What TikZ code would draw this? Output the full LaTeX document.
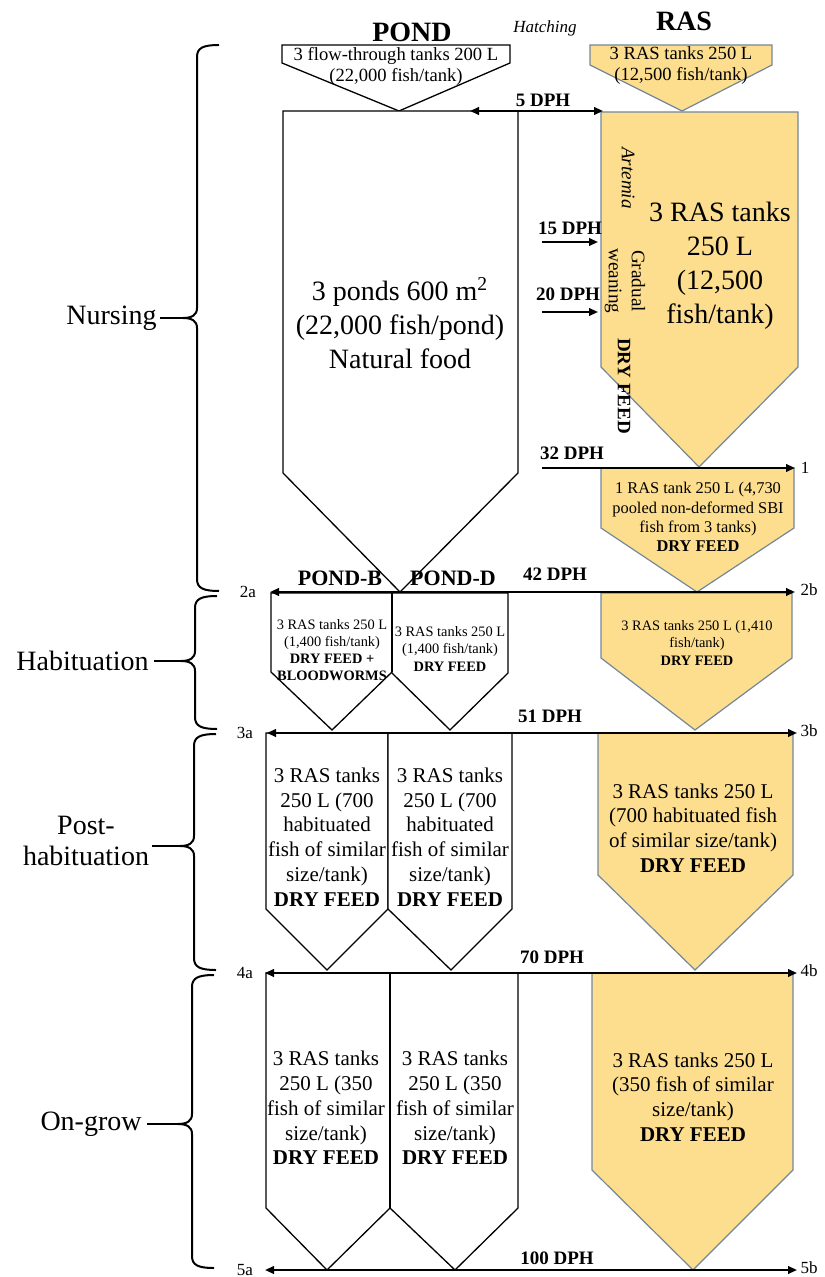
\documentclass[tikz,border=0pt]{standalone}
\usepackage{fontspec}
\setmainfont{Liberation Serif}
\usetikzlibrary{arrows.meta}
\definecolor{rasfill}{RGB}{253,222,142}
\definecolor{rasline}{RGB}{115,135,155}
\newcommand\tankshape[7]{\draw[#1] (#2,#4) -- (#3,#4) -- (#3,#5) -- (#6,#7) -- (#2,#5) -- cycle;}
\newcommand\phasebrace[4]{%
  \draw[line width=1pt] ({#1+22},#2) .. controls ({#1+6},#2) and (#1,{#2+3}) .. (#1,{#2+12})
    -- (#1,{#4-10}) .. controls (#1,{#4-3}) and ({#1-5},#4) .. ({#1-14},#4)
    .. controls ({#1-5},#4) and (#1,{#4+3}) .. (#1,{#4+10})
    -- (#1,{#3-12}) .. controls (#1,{#3-3}) and ({#1+6},#3) .. ({#1+22},#3);}
\begin{document}
\begin{tikzpicture}[x=0.5pt,y=-0.5pt,
  pondbox/.style={draw=black,line width=0.65pt,fill=white},
  rasbox/.style={draw=rasline,line width=0.6pt,fill=rasfill},
  divider/.style={draw=black,line width=1.2pt},
  txt/.style={inner sep=0pt,align=center},
  bigtxt/.style={txt,font=\fontsize{14}{17}\selectfont},
  midtxt/.style={txt,font=\fontsize{10.5}{12.4}\selectfont},
  toptxt/.style={txt,font=\fontsize{9.3}{10.5}\selectfont},
  smtxt/.style={txt,font=\fontsize{8.2}{9.6}\selectfont},
  tinytxt/.style={txt,font=\fontsize{7.2}{8.6}\selectfont},
  dphlbl/.style={txt,font=\bfseries\fontsize{9.5}{11}\selectfont},
  headlbl/.style={txt,font=\bfseries\fontsize{14}{16}\selectfont},
  subhead/.style={txt,font=\bfseries\fontsize{11}{13}\selectfont},
  phaselbl/.style={txt,font=\fontsize{14}{15.5}\selectfont},
  endlbl/.style={txt,font=\fontsize{8.5}{10}\selectfont},
  rottxt/.style={txt,rotate=-90,font=\fontsize{9.6}{11.5}\selectfont},
  onearrow/.style={line width=1pt,-{Triangle[length=4.5pt,width=3.8pt]}},
  twoarrow/.style={line width=1pt,{Triangle[length=4.5pt,width=3.8pt]}-{Triangle[length=4.5pt,width=3.8pt]}}
]
\useasboundingbox (0,0) rectangle (824,1277);

% ---------- headings ----------
\node[headlbl] (hpond) at (412,32) {POND};
\node[headlbl] (hras) at (684,21) {RAS};
\node[txt,font=\itshape\fontsize{8.5}{10}\selectfont] (hatch) at (545,28) {Hatching};

% ---------- tank shapes ----------
\tankshape{pondbox}{282}{510}{45}{63}{399}{111}
\tankshape{rasbox}{590}{772}{45}{65}{682}{111}
\tankshape{pondbox}{283}{518}{111}{473}{400}{592}
\tankshape{rasbox}{601}{798}{112}{367}{699}{467}
\tankshape{rasbox}{601}{794}{468}{528}{697}{592}
\tankshape{pondbox}{271}{392}{593}{672}{332}{730}
\tankshape{pondbox}{392}{508}{593}{673}{450}{730}
\tankshape{rasbox}{601}{792}{593}{658}{695}{730}
\tankshape{pondbox}{266}{388}{733}{909}{327}{970}
\tankshape{pondbox}{388}{512}{733}{909}{451}{970}
\tankshape{rasbox}{598}{793}{733}{875}{695}{970}
\tankshape{pondbox}{266}{390}{973}{1208}{327}{1270}
\tankshape{pondbox}{390}{518}{973}{1208}{455}{1270}
\tankshape{rasbox}{592}{793}{973}{1170}{693}{1270}
\draw[divider] (392,593) -- (392,672);
\draw[divider] (390,973) -- (390,1208);

% ---------- tank texts ----------
\node[toptxt] (t1) at (396,66) {3 flow-through tanks 200 L\\(22,000 fish/tank)};
\node[toptxt] (t2) at (681,66) {3 RAS tanks 250 L\\(12,500 fish/tank)};
\node[bigtxt] (pondtxt) at (400,323) {3 ponds 600 m\textsuperscript{2}\\(22,000 fish/pond)\\Natural food};
\node[bigtxt] (rastxt) at (720,266) {3 RAS tanks\\250 L\\(12,500\\fish/tank)};
\node[rottxt,font=\itshape\fontsize{9.6}{11.5}\selectfont] (artemia) at (628,178) {Artemia};
\node[rottxt] (wean) at (625,281) {Gradual\\weaning};
\node[rottxt,font=\bfseries\fontsize{9.5}{11}\selectfont] (dryrot) at (624,386) {DRY FEED};
\node[smtxt] (r1txt) at (698,517) {1 RAS tank 250 L (4,730\\pooled non-deformed SBI\\fish from 3 tanks)\\\textbf{DRY FEED}};
\node[tinytxt] (hbtxt) at (332,650) {3 RAS tanks 250 L\\(1,400 fish/tank)\\\textbf{DRY FEED +}\\\textbf{BLOODWORMS}};
\node[tinytxt] (hdtxt) at (450,649) {3 RAS tanks 250 L\\(1,400 fish/tank)\\\textbf{DRY FEED}};
\node[tinytxt] (hrtxt) at (697,643) {3 RAS tanks 250 L (1,410\\fish/tank)\\\textbf{DRY FEED}};
\node[midtxt] (pbtxt) at (327,837) {3 RAS tanks\\250 L (700\\habituated\\fish of similar\\size/tank)\\\textbf{DRY FEED}};
\node[midtxt] (pdtxt) at (450,837) {3 RAS tanks\\250 L (700\\habituated\\fish of similar\\size/tank)\\\textbf{DRY FEED}};
\node[midtxt] (prtxt) at (693,828) {3 RAS tanks 250 L\\(700 habituated fish\\of similar size/tank)\\\textbf{DRY FEED}};
\node[midtxt] (obtxt) at (326,1108) {3 RAS tanks\\250 L (350\\fish of similar\\size/tank)\\\textbf{DRY FEED}};
\node[midtxt] (odtxt) at (455,1108) {3 RAS tanks\\250 L (350\\fish of similar\\size/tank)\\\textbf{DRY FEED}};
\node[midtxt] (ortxt) at (693,1097) {3 RAS tanks 250 L\\(350 fish of similar\\size/tank)\\\textbf{DRY FEED}};

% ---------- sub-headings ----------
\node[subhead] (pb) at (340,578) {POND-B};
\node[subhead] (pd) at (453,578) {POND-D};

% ---------- end labels ----------
\node[endlbl] (l1) at (805,468) {1};
\node[endlbl] (l2a) at (248,592) {2a};
\node[endlbl] (l2b) at (809,590) {2b};
\node[endlbl] (l3a) at (245,733) {3a};
\node[endlbl] (l3b) at (809,731) {3b};
\node[endlbl] (l4a) at (245,973) {4a};
\node[endlbl] (l4b) at (809,971) {4b};
\node[endlbl] (l5a) at (245,1270) {5a};
\node[endlbl] (l5b) at (809,1268) {5b};

% ---------- arrow end points ----------
\coordinate (d5a) at (470,111);  \coordinate (d5b) at (603,111);
\coordinate (d15a) at (542,242); \coordinate (d15b) at (598,242);
\coordinate (d20a) at (542,312); \coordinate (d20b) at (598,312);
\coordinate (d32a) at (542,468); \coordinate (d32b) at (795,468);
\coordinate (d42a) at (270,592); \coordinate (d42b) at (795,592);
\coordinate (d51a) at (267,733); \coordinate (d51b) at (797,733);
\coordinate (d70a) at (265,973); \coordinate (d70b) at (797,973);
\coordinate (d100a) at (265,1270); \coordinate (d100b) at (797,1270);

\draw[twoarrow] (d5a) -- (d5b);
\draw[onearrow] (d15a) -- (d15b);
\draw[onearrow] (d20a) -- (d20b);
\draw[onearrow] (d32a) -- (d32b);
\draw[twoarrow] (d42a) -- (d42b);
\draw[twoarrow] (d51a) -- (d51b);
\draw[twoarrow] (d70a) -- (d70b);
\draw[twoarrow] (d100a) -- (d100b);

\node[dphlbl] (n5) at (543,100) {5 DPH};
\node[dphlbl] (n15) at (570,228) {15 DPH};
\node[dphlbl] (n20) at (568,294) {20 DPH};
\node[dphlbl] (n32) at (572,453) {32 DPH};
\node[dphlbl] (n42) at (555,574) {42 DPH};
\node[dphlbl] (n51) at (550,716) {51 DPH};
\node[dphlbl] (n70) at (552,957) {70 DPH};
\node[dphlbl] (n100) at (557,1258) {100 DPH};

% ---------- phase braces ----------
\phasebrace{197}{45}{591}{318}
\phasebrace{195}{596}{729}{661}
\phasebrace{194}{734}{970}{846}
\phasebrace{192}{975}{1268}{1124}

\node[phaselbl,anchor=east] (pnurs) at (157,318) {Nursing};
\node[phaselbl,anchor=east] (phab) at (149,661) {Habituation};
\node[phaselbl] (ppost) at (86,841) {Post-\\habituation};
\node[phaselbl,anchor=east] (pong) at (142,1124) {On-grow};

\draw[line width=1pt] (pnurs.east) ++(3,0) -- (183,318);
\draw[line width=1pt] (phab.east) ++(5,0) -- (181,661);
\draw[line width=1pt] (ppost.east |- 0,846) ++(3,0) -- (180,846);
\draw[line width=1pt] (pong.east) ++(5,0) -- (178,1124);
\end{tikzpicture}
\end{document}
